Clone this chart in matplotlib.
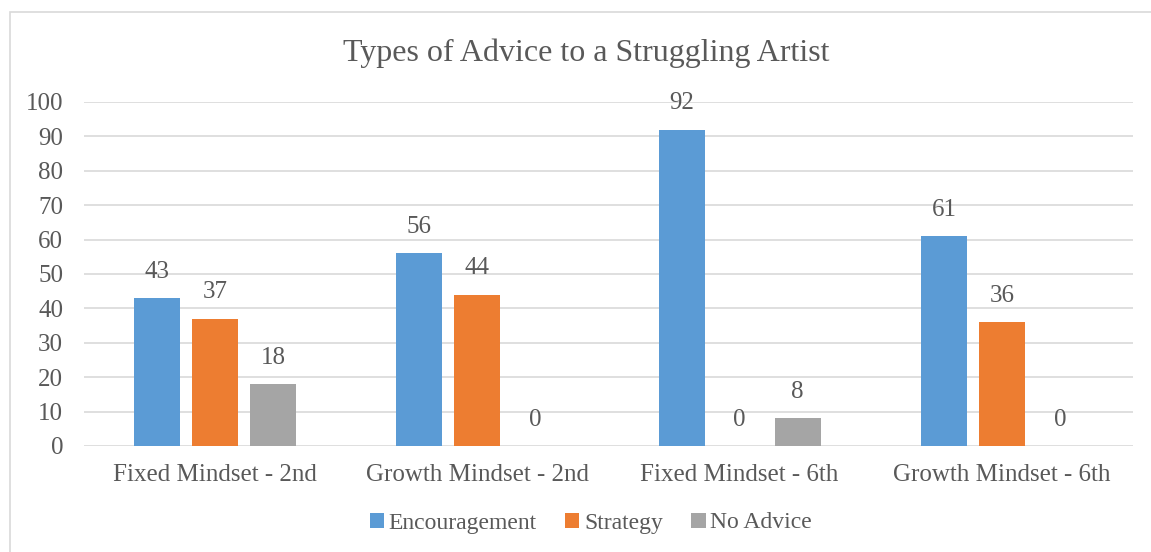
import numpy as np
import matplotlib.pyplot as plt
from matplotlib.patches import Rectangle

categories = ["Fixed Mindset - 2nd", "Growth Mindset - 2nd", "Fixed Mindset - 6th", "Growth Mindset - 6th"]
series_names = ["Encouragement", "Strategy", "No Advice"]
encouragement = [43, 56, 92, 61]
strategy = [37, 44, 0, 36]
no_advice = [18, 0, 8, 0]
colors = ["#5B9BD5", "#ED7D31", "#A5A5A5"]
yticks = list(range(0, 101, 10))

plt.rcParams['font.family'] = ['Liberation Serif', 'DejaVu Serif']
TXT = "#595959"

fig = plt.figure(figsize=(11.51, 5.52), dpi=100)
ax = fig.add_axes([84 / 1151, 1 - 446 / 552, (1133 - 84) / 1151, (446 - 102) / 552])

# chart area border (runs off the right and bottom edge)
fig.patches.append(Rectangle((10 / 1151, -0.1), 1.2, 1 - 12 / 552 + 0.1, transform=fig.transFigure,
                             fill=False, edgecolor="#D9D9D9", linewidth=1.2))

x = np.arange(len(categories))
width = 0.175
step = 0.221
for k, (vals, name) in enumerate(zip([encouragement, strategy, no_advice], series_names)):
    bars = ax.bar(x + (k - 1) * step, vals, width, color=colors[k], label=name, zorder=3)
    for b, v in zip(bars, vals):
        ax.annotate(str(v), (b.get_x() + b.get_width() / 2, v), xytext=(0, 11),
                    textcoords="offset points", ha="center", va="bottom", fontsize=18, color=TXT)

ax.set_xlim(-0.5, len(categories) - 0.5)
ax.set_ylim(0, 100)
ax.set_yticks(yticks)
ax.set_xticks(x)
ax.set_xticklabels(categories)
ax.grid(axis="y", color="#D9D9D9", linewidth=1.2, zorder=0)
for s in ax.spines.values():
    s.set_visible(False)
ax.tick_params(axis="both", length=0, labelsize=18, labelcolor=TXT)
ax.tick_params(axis="y", pad=15)
ax.tick_params(axis="x", pad=13)

fig.text(586 / 1151, 1 - 53 / 552, "Types of Advice to a Struggling Artist", ha="center", va="center",
         fontsize=23, color=TXT)

leg = fig.legend(loc="center", bbox_to_anchor=(591 / 1151, 1 - 523 / 552), ncol=3, frameon=False,
                 fontsize=17, handlelength=0.6, handleheight=0.6, handletextpad=0.2, columnspacing=1.2)
for t in leg.get_texts():
    t.set_color(TXT)

fig.savefig("out.png", dpi=100)
